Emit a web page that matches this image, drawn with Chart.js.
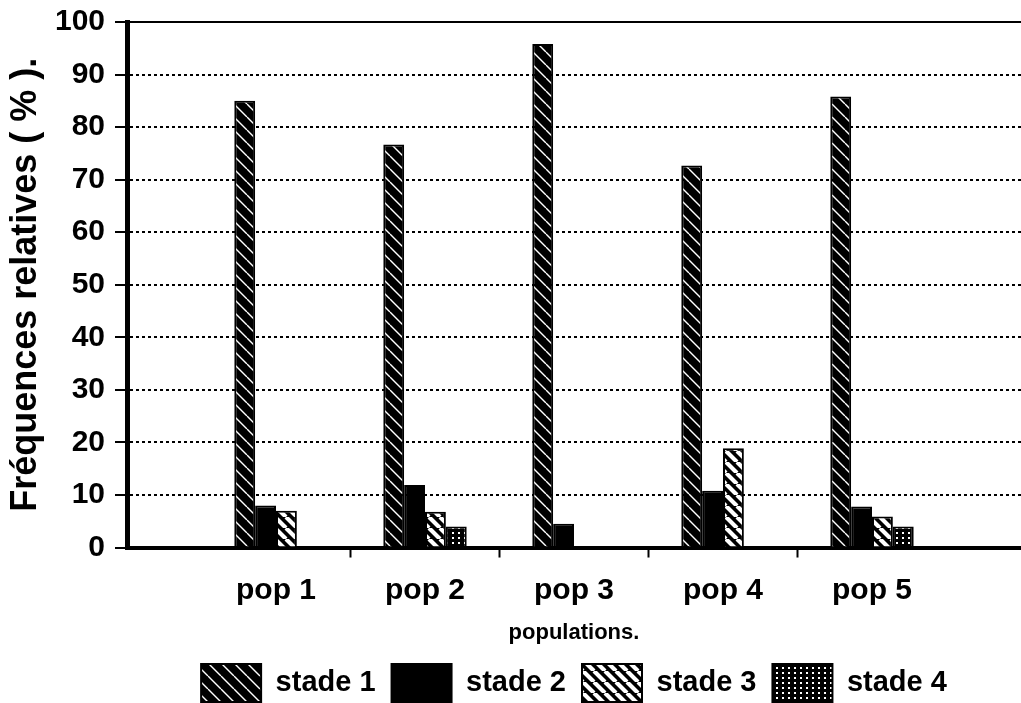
<!DOCTYPE html>
<html>
<head>
<meta charset="utf-8">
<script src="https://cdn.jsdelivr.net/npm/chart.js@4.4.0/dist/chart.umd.min.js"></script>
<style>
  html, body { margin: 0; padding: 0; background: #fff; }
  #wrap { width: 1021px; height: 703px; }
</style>
</head>
<body>
<div id="wrap"><canvas id="freqChart" width="1021" height="703"></canvas></div>
<script>
// data (relative frequencies, %)
var populations = ['pop 1', 'pop 2', 'pop 3', 'pop 4', 'pop 5'];
var stade1 = [85, 76.7, 95.8, 72.7, 85.8];
var stade2 = [8, 11.9, 4.5, 10.8, 7.8];
var stade3 = [7, 6.8, 0, 18.9, 5.9];
var stade4 = [0, 4, 0, 0, 4];
var yTicks = [0, 10, 20, 30, 40, 50, 60, 70, 80, 90, 100];

var FONT = 'Liberation Sans';

// the original leaves about half a category of empty space at each end
var slots = [''].concat(populations, ['']);
function pad(arr) { return [null].concat(arr, [null]); }

// hatch fills like the old black & white plot
function stripes(size, width) {
  var c = document.createElement('canvas');
  c.width = size; c.height = size;
  var g = c.getContext('2d');
  g.fillStyle = '#000';
  g.fillRect(0, 0, size, size);
  g.strokeStyle = '#fff';
  g.lineWidth = width;
  g.beginPath();
  for (var k = -1; k <= 1; k++) {
    g.moveTo(k * size, 0);
    g.lineTo(k * size + size, size);
  }
  g.stroke();
  return g.createPattern(c, 'repeat');
}
function dots() {
  var c = document.createElement('canvas');
  c.width = 6; c.height = 5;
  var g = c.getContext('2d');
  g.fillStyle = '#000';
  g.fillRect(0, 0, 6, 5);
  g.fillStyle = '#fff';
  g.fillRect(2, 2, 2, 2);
  return g.createPattern(c, 'repeat');
}

var ctx = document.getElementById('freqChart').getContext('2d');
var freqChart = new Chart(ctx, {
  type: 'bar',
  data: {
    labels: slots,
    datasets: [
      { label: 'stade 1', data: pad(stade1), backgroundColor: stripes(13, 1.4) },
      { label: 'stade 2', data: pad(stade2), backgroundColor: '#000' },
      { label: 'stade 3', data: pad(stade3), backgroundColor: stripes(11, 4.2) },
      { label: 'stade 4', data: pad(stade4), backgroundColor: dots() }
    ]
  },
  options: {
    responsive: false,
    animation: false,
    layout: { padding: { left: 4, right: 0, top: 3, bottom: -9 } },
    datasets: {
      bar: {
        categoryPercentage: 0.56,
        barPercentage: 1.0,
        borderColor: '#000',
        borderWidth: 2
      }
    },
    scales: {
      x: {
        offset: false,
        // plot runs right to the edge of the page
        afterFit: function (scale) { scale.paddingLeft = 0; scale.paddingRight = 0; },
        grid: {
          offset: true,
          drawOnChartArea: false,
          tickLength: 10,
          tickWidth: 2,
          // only the inner separators carry a tick mark
          tickColor: function (c) { return (c.index >= 2 && c.index <= 5) ? '#000' : 'rgba(0,0,0,0)'; }
        },
        border: { color: '#000', width: 4 },
        ticks: {
          color: '#000',
          autoSkip: false,
          maxRotation: 0,
          padding: 15,
          font: { family: FONT, size: 30, weight: 'bold' }
        },
        title: {
          display: true,
          text: 'populations.',
          color: '#000',
          padding: { top: 0, bottom: 6 },
          font: { family: FONT, size: 22, weight: 'bold', lineHeight: 0.84 }
        }
      },
      xTop: {
        type: 'category',
        position: 'top',
        grid: { display: false, drawTicks: false },
        ticks: { display: false },
        border: { color: '#000', width: 2 }
      },
      y: {
        min: 0,
        max: 100,
        afterBuildTicks: function (scale) {
          scale.ticks = yTicks.map(function (v) { return { value: v }; });
        },
        afterFit: function (scale) { scale.width = 123; },
        ticks: {
          color: '#000',
          padding: 10,
          font: { family: FONT, size: 30, weight: 'bold', lineHeight: 0.8 }
        },
        grid: {
          color: '#000',
          lineWidth: 2,
          tickLength: 12,
          tickWidth: 2,
          tickColor: '#000'
        },
        border: { color: '#000', width: 5, dash: [3, 3] },
        title: {
          display: true,
          text: 'Fréquences relatives ( % ).',
          color: '#000',
          padding: { top: 0, bottom: 4 },
          font: { family: FONT, size: 36, weight: 'bold' }
        }
      }
    },
    plugins: {
      legend: {
        position: 'bottom',
        fullSize: false,
        labels: {
          color: '#000',
          boxWidth: 60,
          boxHeight: 38,
          padding: 16,
          font: { family: FONT, size: 29, weight: 'bold' }
        }
      },
      tooltip: { enabled: false }
    }
  }
});
</script>
</body>
</html>
